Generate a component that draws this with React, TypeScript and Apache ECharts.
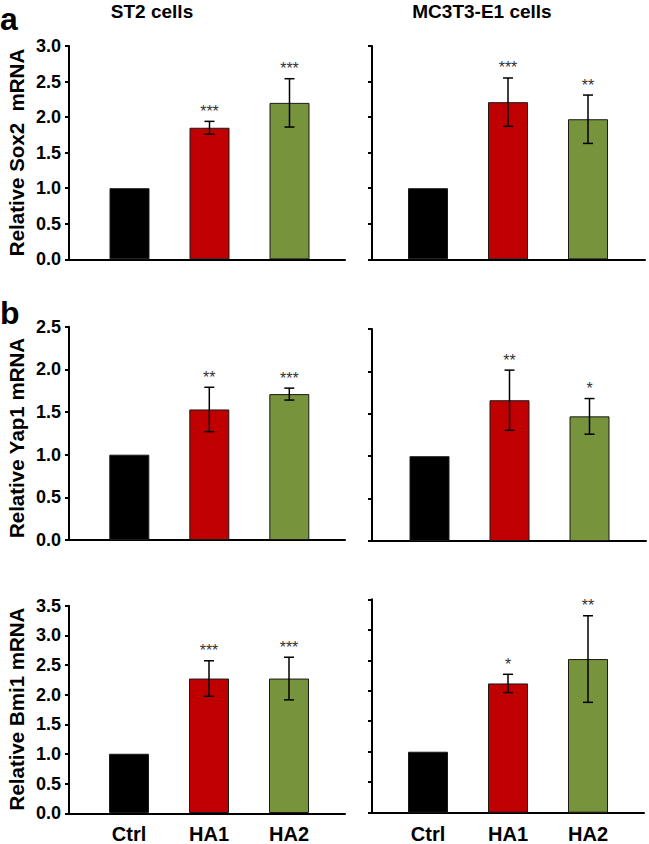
import React, { useEffect, useRef } from "react";
import * as echarts from "echarts";

// ---------- data ----------
const categories = ["Ctrl", "HA1", "HA2"];
const columnTitles = ["ST2 cells", "MC3T3-E1 cells"];
const rowLetters = ["a", "b"];
const rowTitles = ["Relative Sox2  mRNA", "Relative Yap1 mRNA", "Relative Bmi1 mRNA"];
const rowMax = [3.0, 2.5, 3.5];
const tickStep = 0.5;

const sox2St2 = [1.0, 1.85, 2.2];
const sox2St2Err = [0, 0.09, 0.34];
const sox2St2Sig = ["", "***", "***"];

const sox2Mc = [1.0, 2.21, 1.97];
const sox2McErr = [0, 0.34, 0.34];
const sox2McSig = ["", "***", "**"];

const yap1St2 = [1.0, 1.53, 1.71];
const yap1St2Err = [0, 0.26, 0.07];
const yap1St2Sig = ["", "**", "***"];

const yap1Mc = [1.0, 1.66, 1.47];
const yap1McErr = [0, 0.355, 0.21];
const yap1McSig = ["", "**", "*"];

const bmi1St2 = [1.0, 2.27, 2.27];
const bmi1St2Err = [0, 0.3, 0.36];
const bmi1St2Sig = ["", "***", "***"];

const bmi1Mc = [1.0, 2.12, 2.52];
const bmi1McErr = [0, 0.15, 0.71];
const bmi1McSig = ["", "*", "**"];

// ---------- styles / layout ----------
const barColors = ["#000000", "#C00000", "#77933C"];
const FONT = "'Liberation Sans', Arial, sans-serif";

type Panel = {
  row: number;
  col: number;
  values: number[];
  errs: number[];
  sig: string[];
  frameLeft: number;
  frameRight: number;
  top: number;
  bottom: number;
  barLeft: number;
};

const panels: Panel[] = [
  { row: 0, col: 0, values: sox2St2, errs: sox2St2Err, sig: sox2St2Sig, frameLeft: 69, frameRight: 345, top: 46, bottom: 259.3, barLeft: 89.5 },
  { row: 0, col: 1, values: sox2Mc, errs: sox2McErr, sig: sox2McSig, frameLeft: 372, frameRight: 645, top: 46, bottom: 259.3, barLeft: 388 },
  { row: 1, col: 0, values: yap1St2, errs: yap1St2Err, sig: yap1St2Sig, frameLeft: 69, frameRight: 345, top: 326.7, bottom: 540, barLeft: 89.3 },
  { row: 1, col: 1, values: yap1Mc, errs: yap1McErr, sig: yap1McSig, frameLeft: 372, frameRight: 646, top: 329, bottom: 541, barLeft: 389.5 },
  { row: 2, col: 0, values: bmi1St2, errs: bmi1St2Err, sig: bmi1St2Sig, frameLeft: 69, frameRight: 345, top: 605.7, bottom: 813.3, barLeft: 89 },
  { row: 2, col: 1, values: bmi1Mc, errs: bmi1McErr, sig: bmi1McSig, frameLeft: 372, frameRight: 644, top: 599.3, bottom: 812.7, barLeft: 388 },
];

const titleCenters = [
  { x: 152, y: 11 },
  { x: 482, y: 11 },
];
const rowTitleCenters = [152.5, 438, 709];
const letterPos = [
  { x: 0, y: 7.5 },
  { x: 0, y: 302 },
];

function buildOption() {
  const grid: any[] = [];
  const xAxis: any[] = [];
  const yAxis: any[] = [];
  const series: any[] = [];

  panels.forEach((p) => {
    const max = rowMax[p.row];
    const height = p.bottom - p.top;
    // frame grid (axis lines + y ticks/labels)
    const fi = grid.length;
    grid.push({ left: p.frameLeft, top: p.top, width: p.frameRight - p.frameLeft, height });
    xAxis.push({
      type: "value",
      gridIndex: fi,
      min: 0,
      max: 1,
      axisLine: { show: true, onZero: false, lineStyle: { color: "#000", width: 2 } },
      axisTick: { show: false },
      axisLabel: { show: false },
      splitLine: { show: false },
    });
    yAxis.push({
      type: "value",
      gridIndex: fi,
      min: 0,
      max,
      interval: tickStep,
      axisLine: { show: true, lineStyle: { color: "#000", width: 2 } },
      axisTick: { show: true, length: 4, lineStyle: { color: "#000", width: 2 } },
      axisLabel: {
        show: p.col === 0,
        margin: 8,
        color: "#000",
        fontSize: 18,
        fontWeight: "bold",
        fontFamily: FONT,
        formatter: (v: number) => v.toFixed(1),
      },
      splitLine: { show: false },
    });

    // bar grid
    const bi = grid.length;
    grid.push({ left: p.barLeft, top: p.top, width: 240, height });
    xAxis.push({
      type: "category",
      gridIndex: bi,
      data: categories,
      axisLine: { show: false },
      axisTick: { show: false },
      axisLabel: {
        show: p.row === 2,
        margin: 11,
        color: "#000",
        fontSize: 20,
        fontWeight: "bold",
        fontFamily: FONT,
      },
    });
    yAxis.push({ type: "value", gridIndex: bi, min: 0, max, show: false });

    series.push({
      type: "bar",
      xAxisIndex: bi,
      yAxisIndex: bi,
      barWidth: 40,
      data: p.values.map((v, i) => ({
        value: v,
        itemStyle: { color: barColors[i], borderColor: "#1a1a1a", borderWidth: 1 },
      })),
    });

    const sig = p.sig;
    series.push({
      type: "custom",
      xAxisIndex: bi,
      yAxisIndex: bi,
      z: 5,
      data: p.values.map((v, i) => [i, v, p.errs[i]]),
      renderItem: (params: any, api: any) => {
        const idx = api.value(0);
        const mean = api.value(1);
        const err = api.value(2);
        const children: any[] = [];
        const top = api.coord([idx, mean + err]);
        const bot = api.coord([idx, mean - err]);
        if (err > 0) {
          const st = { stroke: "#000", lineWidth: 1.5 };
          children.push({ type: "line", shape: { x1: top[0], y1: top[1], x2: bot[0], y2: bot[1] }, style: st });
          children.push({ type: "line", shape: { x1: top[0] - 5, y1: top[1], x2: top[0] + 5, y2: top[1] }, style: st });
          children.push({ type: "line", shape: { x1: bot[0] - 5, y1: bot[1], x2: bot[0] + 5, y2: bot[1] }, style: st });
        }
        const s = sig[params.dataIndex];
        if (s) {
          children.push({
            type: "text",
            x: top[0],
            y: top[1] - 2,
            style: {
              text: s,
              fill: "#333",
              fontSize: 16,
              fontFamily: FONT,
              align: "center",
              verticalAlign: "bottom",
            },
          });
        }
        return { type: "group", children };
      },
    });
  });

  const graphic: any[] = [];
  columnTitles.forEach((t, i) => {
    graphic.push({
      type: "text",
      x: titleCenters[i].x,
      y: titleCenters[i].y,
      style: { text: t, fill: "#000", fontSize: 19, fontWeight: "bold", fontFamily: FONT, align: "center", verticalAlign: "middle" },
    });
  });
  rowTitles.forEach((t, i) => {
    graphic.push({
      type: "text",
      x: 16,
      y: rowTitleCenters[i],
      rotation: Math.PI / 2,
      style: { text: t, fill: "#000", fontSize: 20.5, fontWeight: "bold", fontFamily: FONT, align: "center", verticalAlign: "middle" },
    });
  });
  rowLetters.forEach((t, i) => {
    graphic.push({
      type: "text",
      x: letterPos[i].x,
      y: letterPos[i].y,
      style: {
        text: t,
        fill: "#000",
        fontSize: 32,
        lineHeight: 22,
        fontWeight: "bold",
        fontFamily: FONT,
        align: "left",
        verticalAlign: "top",
      },
    });
  });

  return {
    animation: false,
    backgroundColor: "#fff",
    grid,
    xAxis,
    yAxis,
    series,
    graphic,
  };
}

export default function App() {
  const ref = useRef<HTMLDivElement>(null);
  useEffect(() => {
    if (!ref.current) return;
    const chart = echarts.init(ref.current, undefined, { renderer: "svg" });
    chart.setOption(buildOption() as any);
    return () => chart.dispose();
  }, []);
  return (
    <div
      ref={ref}
      style={{ position: "fixed", left: 0, top: 0, width: 649, height: 844, background: "#fff" }}
    />
  );
}
